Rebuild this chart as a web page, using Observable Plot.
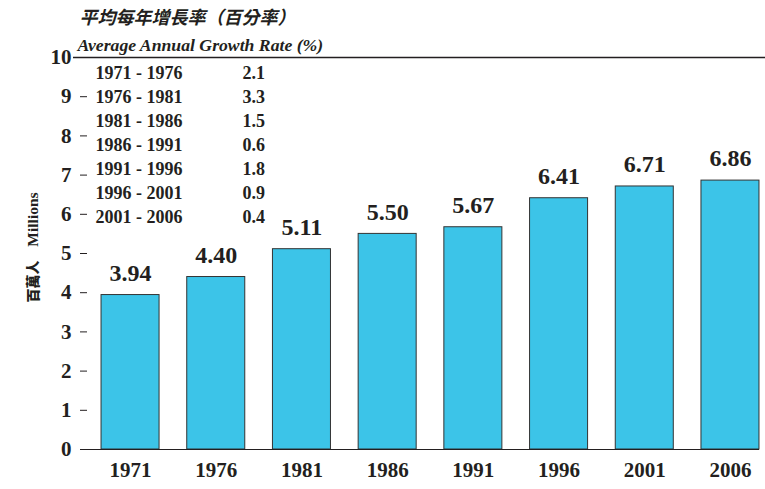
<!DOCTYPE html>
<html>
<head>
<meta charset="utf-8">
<script src="https://cdn.jsdelivr.net/npm/d3@7"></script>
<script src="https://cdn.jsdelivr.net/npm/@observablehq/plot@0.6"></script>
<style>
  html, body { margin: 0; padding: 0; background: #fff; }
  #chart svg { display: block; }
</style>
</head>
<body>
<div id="chart"></div>
<script>
const years = ["1971", "1976", "1981", "1986", "1991", "1996", "2001", "2006"];
const population = [3.94, 4.40, 5.11, 5.50, 5.67, 6.41, 6.71, 6.86];
const periods = ["1971 - 1976", "1976 - 1981", "1981 - 1986", "1986 - 1991", "1991 - 1996", "1996 - 2001", "2001 - 2006"];
const growthRates = ["2.1", "3.3", "1.5", "0.6", "1.8", "0.9", "0.4"];
const yTicks = [0, 1, 2, 3, 4, 5, 6, 7, 8, 9, 10];
const titleZh = "平均每年增長率（百分率）";
const titleEn = "Average Annual Growth Rate (%)";
const yLabelZh = "百萬人";
const yLabelEn = "Millions";

const data = years.map((y, i) => ({year: y, value: population[i]}));
const ink = "#231f20";
const serif = "'Liberation Serif', 'Times New Roman', serif";

const chart = Plot.plot({
  width: 765,
  height: 489,
  marginLeft: 87,
  marginRight: 0,
  marginTop: 57,
  marginBottom: 40,
  style: {fontFamily: serif, fontWeight: "bold", color: ink, background: "#fff"},
  x: {domain: years, paddingInner: 0.323, paddingOuter: 0.117, align: 0.7, round: false, label: null},
  y: {domain: [0, 10], label: null},
  marks: [
    Plot.barY(data, {x: "year", y: "value", fill: "#3cc4e8", stroke: "#333", strokeWidth: 1}),
    Plot.ruleY([10], {stroke: ink, strokeWidth: 1.5, insetLeft: -14}),
    Plot.ruleY([0], {stroke: ink, strokeWidth: 1.2, insetRight: 6, insetLeft: -7}),
    Plot.axisY({ticks: yTicks, tickSize: 7, tickPadding: 9, fontSize: 21, fontWeight: "bold", line: true, label: null, stroke: ink}),
    Plot.axisX({tickSize: 0, tickPadding: 13, fontSize: 21, fontWeight: "bold", label: null}),
    Plot.text(data, {x: "year", y: "value", text: d => d.value.toFixed(2), dy: -22, fontSize: 24, fontWeight: "bold", fill: ink}),
    Plot.text([periods.join("\n")], {frameAnchor: "top-left", dx: 8, dy: 5, lineHeight: 1.33, fontSize: 18, fontWeight: "bold", fill: ink, textAnchor: "start", lineAnchor: "top"}),
    Plot.text([growthRates.join("\n")], {frameAnchor: "top-left", dx: 155, dy: 5, lineHeight: 1.33, fontSize: 18, fontWeight: "bold", fill: ink, textAnchor: "start", lineAnchor: "top"}),
    Plot.text([titleZh], {frameAnchor: "top-left", dx: -8, dy: -39, fontSize: 18, fontWeight: "bold", fontStyle: "italic", fontFamily: "'Noto Sans CJK TC', sans-serif", fill: ink, textAnchor: "start", lineAnchor: "middle"}),
    Plot.text([titleEn], {frameAnchor: "top-left", dx: -10, dy: -12, fontSize: 17.7, fontWeight: "bold", fontStyle: "italic", fill: ink, textAnchor: "start", lineAnchor: "middle"}),
    Plot.text([yLabelEn], {frameAnchor: "left", dx: -54, dy: -34, rotate: -90, fontSize: 15.5, fontWeight: "bold", fill: ink, textAnchor: "middle", lineAnchor: "middle"}),
    Plot.text([yLabelZh], {frameAnchor: "left", dx: -54, dy: 28, rotate: -90, fontSize: 14, fontWeight: 900, fontFamily: "'Noto Sans CJK TC', sans-serif", fill: ink, textAnchor: "middle", lineAnchor: "middle", style: "letter-spacing: 1px"})
  ]
});
document.getElementById("chart").appendChild(chart);
</script>
</body>
</html>
